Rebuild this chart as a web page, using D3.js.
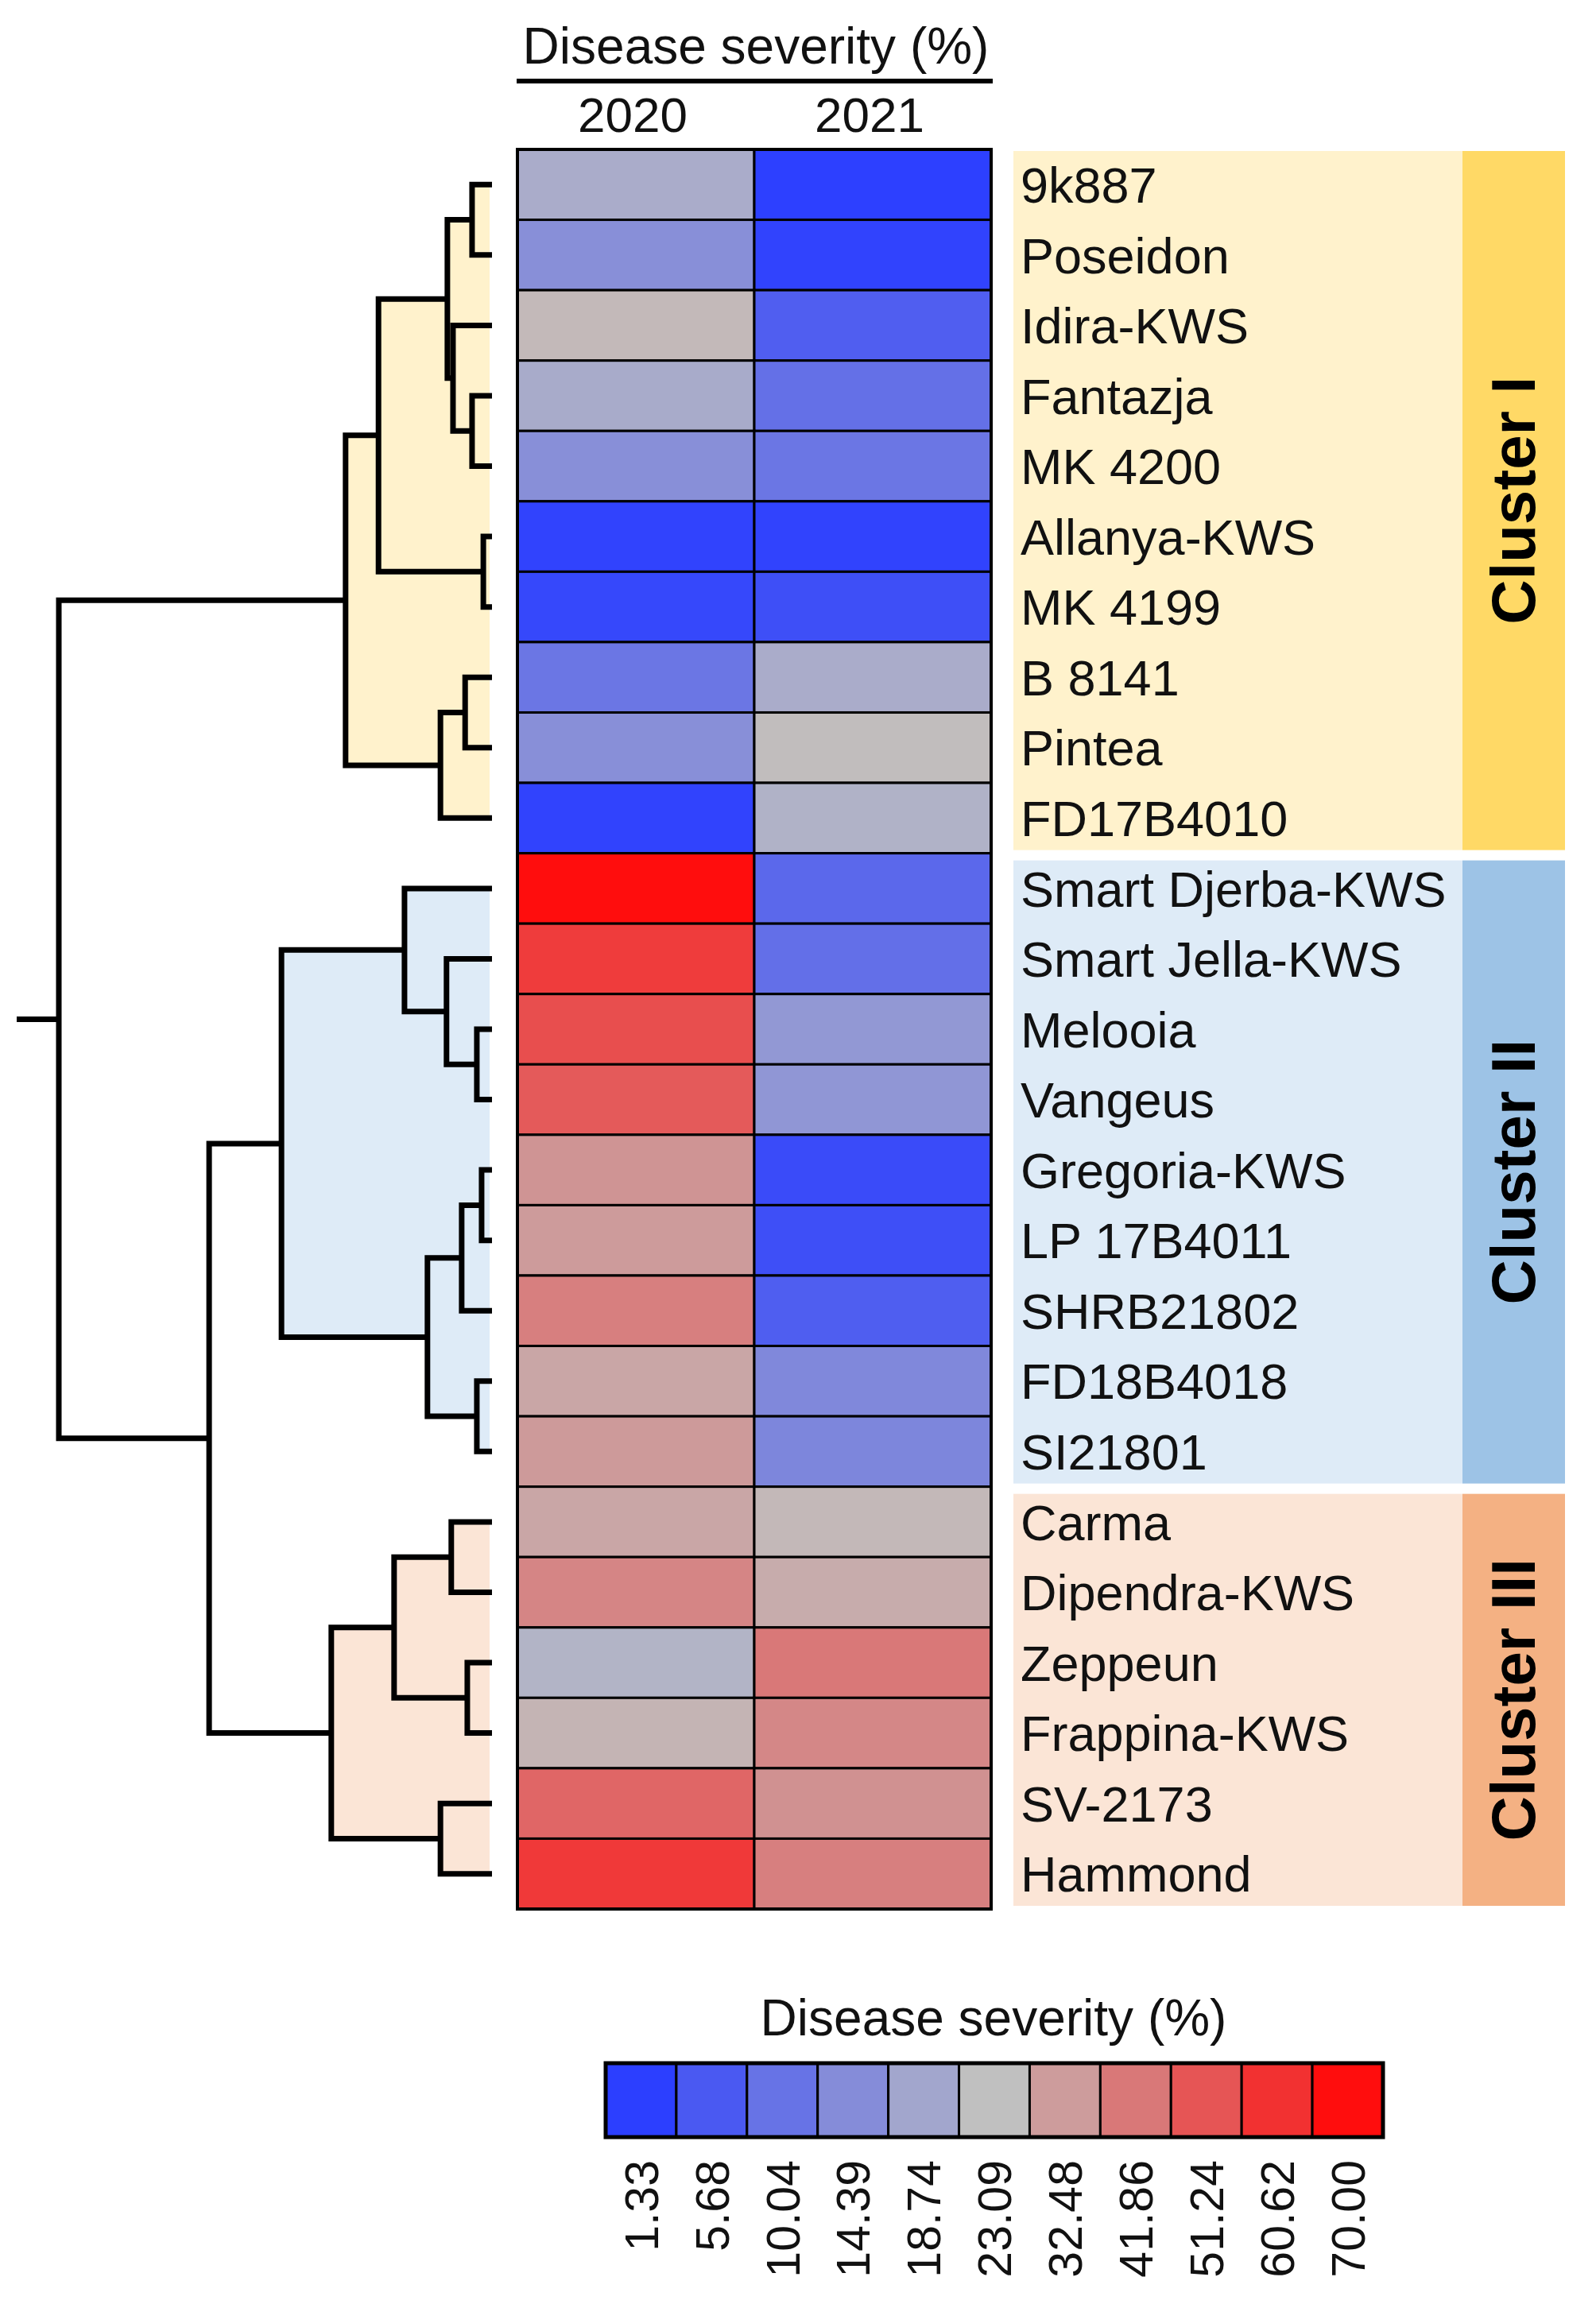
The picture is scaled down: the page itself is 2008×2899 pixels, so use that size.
<!DOCTYPE html>
<html>
<head>
<meta charset="utf-8">
<script src="https://cdn.jsdelivr.net/npm/d3@7"></script>
<style>
  html, body { margin: 0; padding: 0; background: #fff; }
  svg { display: block; }
  text { font-family: "Liberation Sans", Arial, sans-serif; }
</style>
</head>
<body>
<svg id="chart" width="2008" height="2899"></svg>
<script>
// ---------------- DATA ----------------
const genotypes = ["9k887","Poseidon","Idira-KWS","Fantazja","MK 4200","Allanya-KWS","MK 4199","B 8141","Pintea","FD17B4010",
  "Smart Djerba-KWS","Smart Jella-KWS","Melooia","Vangeus","Gregoria-KWS","LP 17B4011","SHRB21802","FD18B4018","SI21801",
  "Carma","Dipendra-KWS","Zeppeun","Frappina-KWS","SV-2173","Hammond"];
const years = ["2020","2021"];
const severity2020 = [19.8,14.8,25.0,19.6,14.8,2.0,2.8,10.6,14.8,2.0,
  70.0,57.8,53.0,49.8,34.6,32.9,40.1,29.9,33.0,
  29.9,38.6,21.0,26.2,46.6,58.5];
const severity2021 = [1.5,2.0,6.6,9.6,10.6,2.0,4.0,19.8,24.0,20.7,
  8.3,9.4,16.3,16.0,3.4,4.0,6.5,13.7,13.3,
  25.2,28.3,41.9,38.1,35.3,40.0];
const legendTicks = [1.33,5.68,10.04,14.39,18.74,23.09,32.48,41.86,51.24,60.62,70.00];
const colorStops = [1.33, 23.09, 70.00];
const colorRange = ["#2C3FFF","#C0C0C0","#FF0D0D"];
const clusterNames = ["Cluster I","Cluster II","Cluster III"];
const clusterStart = [0, 10, 19];
const clusterEnd = [9, 18, 24];
const clusterLight = ["#FFF2CC","#DEEBF7","#FBE5D6"];
const clusterDark = ["#FFD966","#9DC3E6","#F4B183"];
// dendrogram: internal nodes {h, children}, leaves are row indices
const dendro = {h:100, children:[
  {h:33.8, cluster:0, children:[
    {h:26.2, children:[
      {h:10.3, children:[
        {h:4.6, children:[0,1]},
        {h:9.0, children:[2, {h:4.6, children:[3,4]}]}
      ]},
      {h:2.0, children:[5,6]}
    ]},
    {h:11.9, children:[{h:6.2, children:[7,8]}, 9]}
  ]},
  {h:65.3, children:[
    {h:48.6, cluster:1, children:[
      {h:20.2, children:[10, {h:10.5, children:[11, {h:3.5, children:[12,13]}]}]},
      {h:14.9, children:[{h:7.0, children:[{h:2.4, children:[14,15]}, 16]}, {h:3.5, children:[17,18]}]}
    ]},
    {h:37.1, cluster:2, children:[
      {h:22.6, children:[{h:9.4, children:[19,20]}, {h:5.7, children:[21,22]}]},
      {h:11.9, children:[23,24]}
    ]}
  ]}
]};

// ---------------- SCALES ----------------
const svg = d3.select("#chart");
const y = d3.scaleBand().domain(genotypes).range([188, 2402]).padding(0);
const x = d3.scaleBand().domain(years).range([651, 1247]).padding(0);
const color = d3.scaleLinear().domain(colorStops).range(colorRange).interpolate(d3.interpolateRgb);
const hx = d3.scaleLinear().domain([0, 100]).range([619, 74]);
const bw = y.bandwidth();

// ---------------- DENDROGRAM ----------------
const root = d3.hierarchy(dendro, d => (typeof d === "number") ? null : d.children);
root.eachAfter(n => {
  if (typeof n.data === "number") {
    n.px = hx(0);
    n.py = y(genotypes[n.data]) + bw / 2;
  } else {
    n.px = hx(n.data.h);
    n.py = d3.mean(n.children, c => c.py);
  }
});
const gTree = svg.append("g");
root.descendants().filter(n => n.data.cluster !== undefined).forEach(cn => {
  const ci = cn.data.cluster;
  cn.descendants().filter(n => n.children).forEach(n => {
    const ys = n.children.map(c => c.py);
    gTree.append("rect")
      .attr("x", n.px).attr("y", d3.min(ys))
      .attr("width", hx(0) - 3 - n.px).attr("height", d3.max(ys) - d3.min(ys))
      .attr("fill", clusterLight[ci]);
  });
});
const internal = root.descendants().filter(n => n.children);
gTree.selectAll("path.link").data(internal).join("path")
  .attr("class", "link")
  .attr("fill", "none").attr("stroke", "#000").attr("stroke-width", 7)
  .attr("stroke-linejoin", "miter").attr("stroke-linecap", "butt")
  .attr("d", n => {
    const [a, b] = n.children;
    return `M${a.px},${a.py}H${n.px}V${b.py}H${b.px}`;
  });
gTree.append("path").attr("stroke", "#000").attr("stroke-width", 7).attr("fill", "none")
  .attr("d", `M21,${root.py}H${root.px}`);

// ---------------- HEATMAP ----------------
const cells = [];
genotypes.forEach((g, i) => {
  cells.push({g, yr: "2020", v: severity2020[i]});
  cells.push({g, yr: "2021", v: severity2021[i]});
});
const gHeat = svg.append("g");
gHeat.selectAll("rect.cell").data(cells).join("rect")
  .attr("class", "cell")
  .attr("x", d => x(d.yr)).attr("y", d => y(d.g))
  .attr("width", x.bandwidth()).attr("height", bw)
  .attr("fill", d => color(d.v))
  .attr("stroke", "#000").attr("stroke-width", 3);
gHeat.append("rect")
  .attr("x", x.range()[0]).attr("y", y.range()[0])
  .attr("width", x.range()[1] - x.range()[0]).attr("height", y.range()[1] - y.range()[0])
  .attr("fill", "none").attr("stroke", "#000").attr("stroke-width", 4);

svg.append("text").attr("x", 951).attr("y", 80).attr("text-anchor", "middle")
  .attr("font-size", 64).attr("fill", "#111").text("Disease severity (%)");
svg.append("line").attr("x1", 650).attr("x2", 1249).attr("y1", 102).attr("y2", 102)
  .attr("stroke", "#000").attr("stroke-width", 6);
svg.selectAll("text.year").data(years).join("text")
  .attr("class", "year")
  .attr("x", d => x(d) + x.bandwidth() / 2 - 4).attr("y", 166)
  .attr("text-anchor", "middle").attr("font-size", 62).attr("fill", "#111")
  .text(d => d);

// ---------------- LABEL BANDS ----------------
const gBand = svg.append("g");
clusterNames.forEach((name, ci) => {
  const top = y(genotypes[clusterStart[ci]]) + (ci === 0 ? 2 : 9);
  const bot = y(genotypes[clusterEnd[ci]]) + bw - 4;
  gBand.append("rect").attr("x", 1275).attr("y", top).attr("width", 565).attr("height", bot - top)
    .attr("fill", clusterLight[ci]);
  gBand.append("rect").attr("x", 1840).attr("y", top).attr("width", 129).attr("height", bot - top)
    .attr("fill", clusterDark[ci]);
  const cy = (top + bot) / 2;
  gBand.append("text")
    .attr("transform", `translate(1903,${cy}) rotate(-90)`)
    .attr("text-anchor", "middle").attr("dy", "0.36em")
    .attr("font-size", 78).attr("font-weight", "bold").attr("fill", "#000")
    .text(name);
});
gBand.selectAll("text.lab").data(genotypes).join("text")
  .attr("class", "lab")
  .attr("x", 1284).attr("y", d => y(d) + bw / 2).attr("dy", "0.36em")
  .attr("font-size", 63).attr("fill", "#111")
  .text(d => d);

// ---------------- LEGEND ----------------
const lx = d3.scaleBand().domain(legendTicks.map(String)).range([762, 1740]).padding(0);
const gLeg = svg.append("g");
gLeg.append("text").attr("x", 1250).attr("y", 2561).attr("text-anchor", "middle")
  .attr("font-size", 64).attr("fill", "#111").text("Disease severity (%)");
gLeg.selectAll("rect.lc").data(legendTicks).join("rect")
  .attr("class", "lc")
  .attr("x", d => lx(String(d))).attr("y", 2596)
  .attr("width", lx.bandwidth()).attr("height", 93)
  .attr("fill", d => color(d)).attr("stroke", "#000").attr("stroke-width", 3);
gLeg.append("rect").attr("x", 762).attr("y", 2596).attr("width", 978).attr("height", 93)
  .attr("fill", "none").attr("stroke", "#000").attr("stroke-width", 5);
gLeg.selectAll("text.lt").data(legendTicks).join("text")
  .attr("class", "lt")
  .attr("transform", d => `translate(${lx(String(d)) + lx.bandwidth() / 2},2718) rotate(-90)`)
  .attr("text-anchor", "end").attr("dy", "0.36em")
  .attr("font-size", 59).attr("fill", "#111")
  .text(d => d.toFixed(2));
</script>
</body>
</html>
